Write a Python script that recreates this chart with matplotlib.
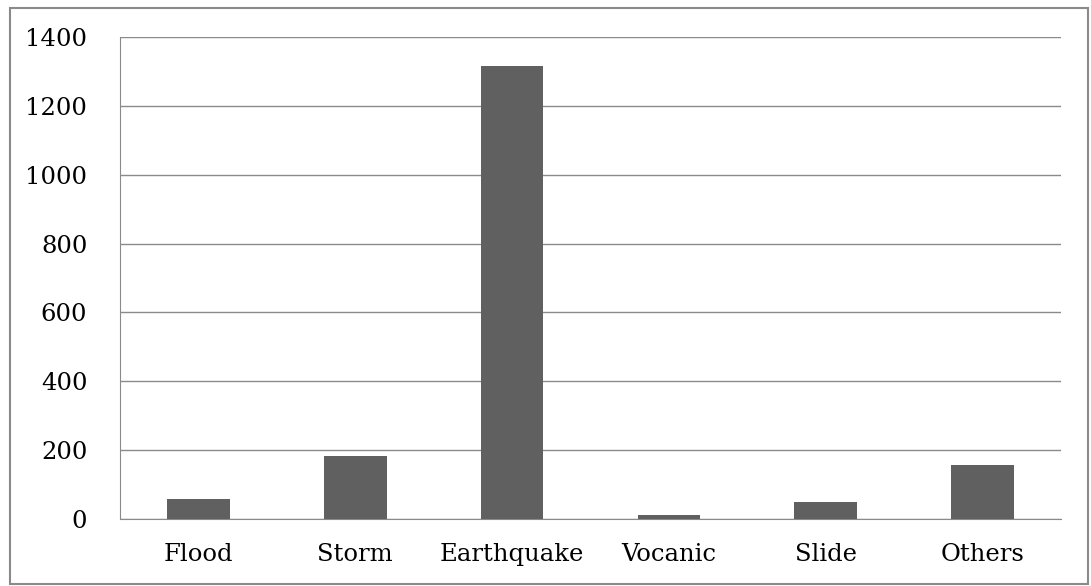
import matplotlib
matplotlib.use("Agg")
import matplotlib.pyplot as plt
from matplotlib.patches import Rectangle

categories = ["Flood", "Storm", "Earthquake", "Vocanic", "Slide", "Others"]
values = [57, 184, 1317, 12, 49, 157]
y_ticks = [0, 200, 400, 600, 800, 1000, 1200, 1400]

plt.rcParams['font.family'] = ['DejaVu Serif']

fig = plt.figure(figsize=(10.91, 5.86), dpi=100)
ax = fig.add_axes([120 / 1091, 1 - 519 / 586, (1061 - 120) / 1091, (519 - 37) / 586])

x = range(len(categories))
ax.bar(x, values, width=0.4, color='#606060', zorder=3)

ax.set_xlim(-0.5, len(categories) - 0.5)
ax.set_ylim(0, 1400)
ax.set_yticks(y_ticks)
ax.set_xticks(list(x))
ax.set_xticklabels(categories)
ax.grid(axis='y', color='#8a8a8a', linewidth=1, zorder=0)

for side in ['top', 'right']:
    ax.spines[side].set_visible(False)
ax.spines['left'].set_color('#8a8a8a')
ax.spines['bottom'].set_color('#8a8a8a')
ax.tick_params(axis='both', length=0, labelsize=17.5, colors='black')
ax.tick_params(axis='y', pad=23.5)
ax.tick_params(axis='x', pad=17)

# outer frame of the chart
fig.patches.append(Rectangle((10 / 1091, 1 - 584 / 586), 1078 / 1091, 576 / 586,
                             transform=fig.transFigure, fill=False,
                             edgecolor='#8a8a8a', linewidth=1.5))

fig.savefig('out.png', dpi=100)
